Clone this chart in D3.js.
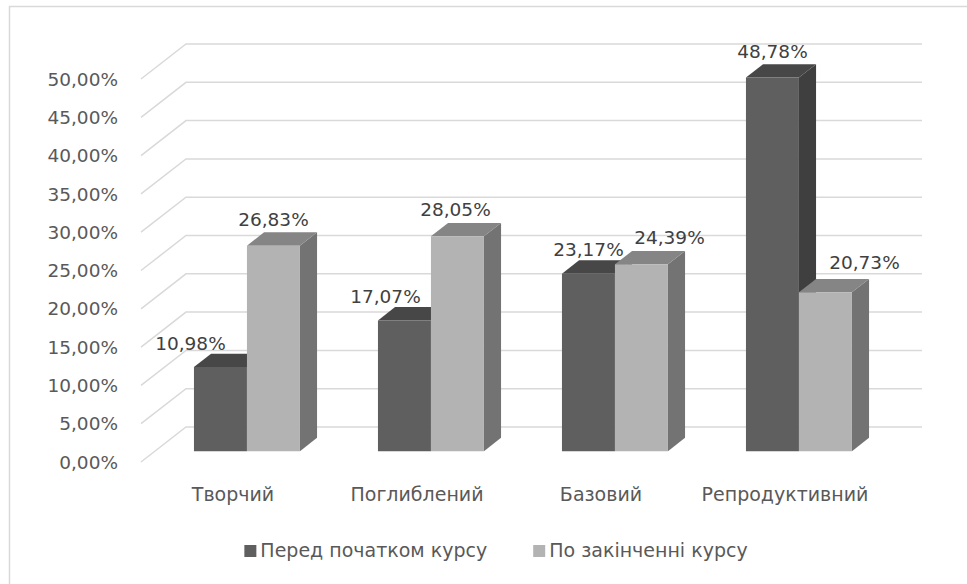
<!DOCTYPE html>
<html>
<head>
<meta charset="utf-8">
<script src="https://cdn.jsdelivr.net/npm/d3@7/dist/d3.min.js"></script>
<style>
  html, body { margin: 0; padding: 0; background: #fff; }
  svg { display: block; }
</style>
</head>
<body>
<svg id="chart" width="967" height="584"></svg>
<script>
// Levels of competence before and after the course (percent of students)
const categories = ["Творчий", "Поглиблений", "Базовий", "Репродуктивний"];
const seriesNames = ["Перед початком курсу", "По закінченні курсу"];
const beforeCourse = [10.98, 17.07, 23.17, 48.78];
const afterCourse = [26.83, 28.05, 24.39, 20.73];
const yTicks = [0, 5, 10, 15, 20, 25, 30, 35, 40, 45, 50];

const series = [
  { name: seriesNames[0], values: beforeCourse, front: "#5f5f5f", top: "#474747", side: "#3f3f3f" },
  { name: seriesNames[1], values: afterCourse,  front: "#b3b3b3", top: "#858585", side: "#737373" }
];

const svg = d3.select("#chart");
const W = 967, H = 584;

// chart frame (only left and top edges fall inside the page)
svg.append("rect")
  .attr("x", 9.5).attr("y", 6.5)
  .attr("width", W + 20).attr("height", H + 20)
  .attr("fill", "none").attr("stroke", "#d9d9d9").attr("stroke-width", 1.5);

// oblique projection: depth z in [0,1] shifts points right and up
const depthDX = 45, depthDY = -35;
const proj = (x, y, z) => [x + depthDX * z, y + depthDY * z];

const floorLeft = 141, floorRight = 877;
const y = d3.scaleLinear().domain([0, 50]).range([462, 79]);

const x = d3.scaleBand().domain(categories)
  .range([floorLeft, floorRight])
  .paddingInner(0.424).paddingOuter(0.212);
const xs = d3.scaleBand().domain(seriesNames).range([0, x.bandwidth()]);

// gridlines: side wall diagonal + back wall horizontal
const grid = svg.append("g").attr("stroke", "#d9d9d9").attr("stroke-width", 1.5).attr("fill", "none");
yTicks.forEach(t => {
  const a = proj(floorLeft, y(t), 0);
  const b = proj(floorLeft, y(t), 1);
  const c = proj(floorRight, y(t), 1);
  grid.append("path").attr("d", d3.line()([a, b, c]));
});

// value axis labels
const fmt = v => d3.format(".2f")(v).replace(".", ",") + "%";
svg.append("g").selectAll("text").data(yTicks).join("text")
  .attr("x", 118).attr("y", d => y(d))
  .attr("dy", "0.36em")
  .attr("text-anchor", "end")
  .attr("font-family", "DejaVu Sans, Verdana, sans-serif")
  .attr("font-size", 18.5)
  .attr("fill", "#595959")
  .text(d => d.toFixed(2).replace(".", ",") + "%");

// 3D columns
const zFront = 0.31, zBack = 0.69;
const bars = svg.append("g");
const poly = pts => "M" + pts.map(p => p.join(",")).join("L") + "Z";
const tops = [];

categories.forEach((cat, ci) => {
  series.forEach((s, si) => {
    const v = s.values[ci];
    const x0 = x(cat) + xs(s.name), x1 = x0 + xs.bandwidth();
    const yb = y(0), yt = y(v);
    const fbl = proj(x0, yb, zFront), fbr = proj(x1, yb, zFront);
    const ftl = proj(x0, yt, zFront), ftr = proj(x1, yt, zFront);
    const bbr = proj(x1, yb, zBack);
    const btl = proj(x0, yt, zBack), btr = proj(x1, yt, zBack);
    const g = bars.append("g");
    g.append("path").attr("d", poly([fbr, ftr, btr, bbr])).attr("fill", s.side);
    g.append("path").attr("d", poly([ftl, ftr, btr, btl])).attr("fill", s.top);
    g.append("path").attr("d", poly([fbl, fbr, ftr, ftl])).attr("fill", s.front);
    tops.push({ ci, si, v, cx: (ftl[0] + ftr[0]) / 2, cy: btl[1] });
  });
});

// data labels, some nudged sideways to stay clear of neighbouring columns
const labelNudge = [[[-30, 0], [0, -2]], [[-19, 0], [-2, -3]], [[0, 0], [28, -3]], [[0, -2], [39, -6]]];
svg.append("g").selectAll("text").data(tops).join("text")
  .attr("x", d => d.cx + labelNudge[d.ci][d.si][0])
  .attr("y", d => d.cy - 4 + labelNudge[d.ci][d.si][1])
  .attr("text-anchor", "middle")
  .attr("font-family", "DejaVu Sans, Verdana, sans-serif")
  .attr("font-size", 18.5)
  .attr("fill", "#404040")
  .text(d => fmt(d.v));

// category labels
svg.append("g").selectAll("text").data(categories).join("text")
  .attr("x", d => x(d) + x.bandwidth() / 2)
  .attr("y", 501)
  .attr("text-anchor", "middle")
  .attr("font-family", "DejaVu Sans, sans-serif")
  .attr("font-size", 19)
  .attr("fill", "#595959")
  .text(d => d);

// legend
const legend = svg.append("g").attr("font-family", "DejaVu Sans, sans-serif")
  .attr("font-size", 19).attr("fill", "#595959");
const items = legend.selectAll("g").data(series).join("g");
items.append("rect").attr("width", 12).attr("height", 12).attr("y", -12).attr("fill", d => d.front);
items.append("text").attr("x", 16).text(d => d.name);
const widths = [];
items.each(function () { widths.push(this.getBBox().width); });
const gap = 46;
const total = d3.sum(widths) + gap * (widths.length - 1);
let cursor = 496 - total / 2;
items.attr("transform", (d, i) => {
  const tx = cursor;
  cursor += widths[i] + gap;
  return `translate(${tx},557)`;
});
</script>
</body>
</html>
